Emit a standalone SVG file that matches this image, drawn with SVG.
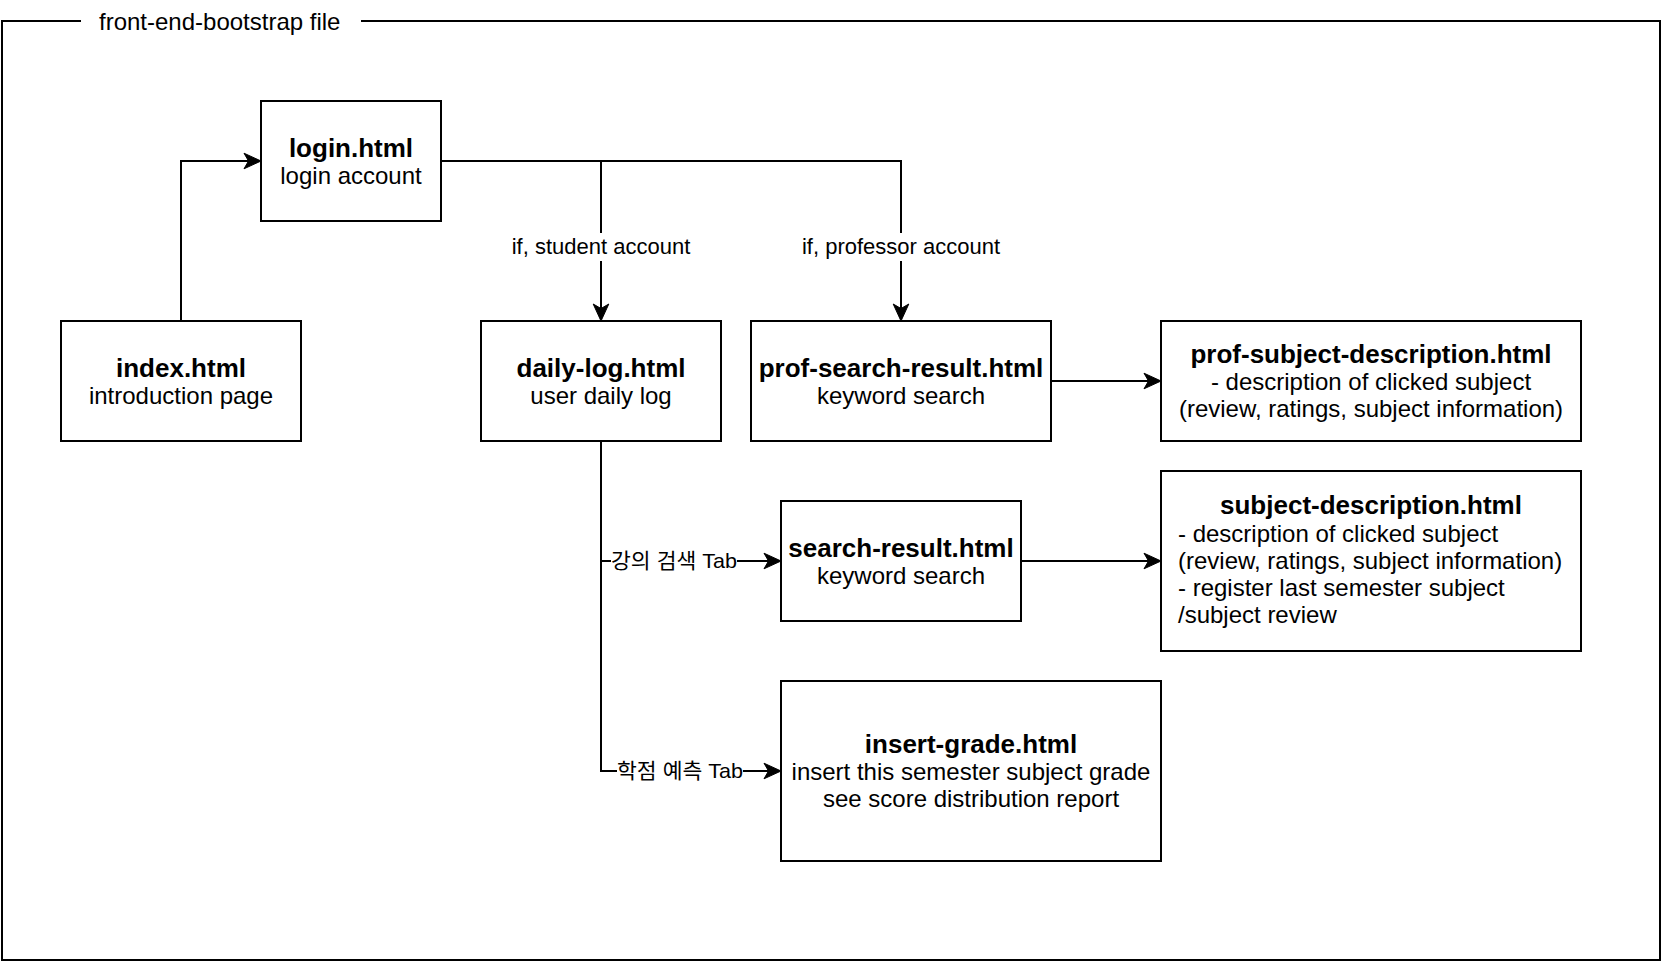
<svg xmlns="http://www.w3.org/2000/svg" width="1662" height="962" viewBox="0 0 1662 962">
<style>
  .box { fill: #ffffff; stroke: #000000; stroke-width: 2; }
  .edge { fill: none; stroke: #000000; stroke-width: 2; }
  .t { font-family: "Liberation Sans", Arial, Helvetica, sans-serif; fill: #000000; }
  .title { font-size: 26px; font-weight: bold; text-anchor: middle; }
  .reg { font-size: 24px; }
  .mid { text-anchor: middle; }
  .lbl { font-size: 22px; text-anchor: middle; }
  .klbl { font-family: "Liberation Sans", "Noto Sans CJK KR", sans-serif; font-size: 21px; text-anchor: middle; fill: #000000; }
  .bg { fill: #ffffff; stroke: none; }
</style>
<defs>
  <marker id="arr" markerUnits="userSpaceOnUse" markerWidth="30" markerHeight="30" viewBox="-15 -15 30 30" refX="0" refY="0" orient="auto" overflow="visible">
    <path d="M12,0 L-5,-7.8 L-0.5,0 L-5,7.8 Z" fill="#000000" stroke="#000000" stroke-width="1"/>
  </marker>
</defs>
<rect x="0" y="0" width="1662" height="962" fill="#ffffff"/>

<g id="frame">
  <path class="edge" d="M81,21 H2 V960 H1660 V21 H361"/>
  <text class="t reg" x="99" y="29.5">front-end-bootstrap file</text>
</g>

<g id="connectors">
  <path class="edge" d="M181,321 V161 H249" marker-end="url(#arr)"/>
  <path class="edge" d="M441,161 H601 V309" marker-end="url(#arr)"/>
  <path class="edge" d="M601,161 H901 V309" marker-end="url(#arr)"/>
  <path class="edge" d="M1051,381 H1149" marker-end="url(#arr)"/>
  <path class="edge" d="M601,441 V561 H769" marker-end="url(#arr)"/>
  <path class="edge" d="M601,561 V771 H769" marker-end="url(#arr)"/>
  <path class="edge" d="M1021,561 H1149" marker-end="url(#arr)"/>
  <g id="edge-labels">
    <rect class="bg" x="510" y="233" width="182" height="28"/>
    <text class="t lbl" x="601" y="254">if, student account</text>
    <rect class="bg" x="801" y="233" width="200" height="28"/>
    <text class="t lbl" x="901" y="254">if, professor account</text>
    <rect class="bg" x="611" y="548" width="126" height="26"/>
    <text class="klbl" x="674" y="568" textLength="126" lengthAdjust="spacingAndGlyphs">강의 검색 Tab</text>
    <rect class="bg" x="617" y="758" width="126" height="26"/>
    <text class="klbl" x="680" y="778" textLength="126" lengthAdjust="spacingAndGlyphs">학점 예측 Tab</text>
  </g>
</g>

<g id="login">
  <rect class="box" x="261" y="101" width="180" height="120"/>
  <text class="t title" x="351" y="156.5">login.html</text>
  <text class="t reg mid" x="351" y="183.8">login account</text>
</g>

<g id="index">
  <rect class="box" x="61" y="321" width="240" height="120"/>
  <text class="t title" x="181" y="376.5">index.html</text>
  <text class="t reg mid" x="181" y="403.8">introduction page</text>
</g>

<g id="daily-log">
  <rect class="box" x="481" y="321" width="240" height="120"/>
  <text class="t title" x="601" y="376.5">daily-log.html</text>
  <text class="t reg mid" x="601" y="403.8">user daily log</text>
</g>

<g id="prof-search-result">
  <rect class="box" x="751" y="321" width="300" height="120"/>
  <text class="t title" x="901" y="376.5">prof-search-result.html</text>
  <text class="t reg mid" x="901" y="403.8">keyword search</text>
</g>

<g id="prof-subject-description">
  <rect class="box" x="1161" y="321" width="420" height="120"/>
  <text class="t title" x="1371" y="362.6">prof-subject-description.html</text>
  <text class="t reg mid" x="1371" y="390">- description of clicked subject</text>
  <text class="t reg mid" x="1371" y="417.4">(review, ratings, subject information)</text>
</g>

<g id="search-result">
  <rect class="box" x="781" y="501" width="240" height="120"/>
  <text class="t title" x="901" y="556.5">search-result.html</text>
  <text class="t reg mid" x="901" y="583.8">keyword search</text>
</g>

<g id="subject-description">
  <rect class="box" x="1161" y="471" width="420" height="180"/>
  <text class="t title" x="1371" y="514">subject-description.html</text>
  <text class="t reg" x="1178" y="541.5">- description of clicked subject</text>
  <text class="t reg" x="1178" y="568.5">(review, ratings, subject information)</text>
  <text class="t reg" x="1178" y="595.5">- register last semester subject</text>
  <text class="t reg" x="1178" y="622.5">/subject review</text>
</g>

<g id="insert-grade">
  <rect class="box" x="781" y="681" width="380" height="180"/>
  <text class="t title" x="971" y="752.6">insert-grade.html</text>
  <text class="t reg mid" x="971" y="780">insert this semester subject grade</text>
  <text class="t reg mid" x="971" y="807.4">see score distribution report</text>
</g>
</svg>
